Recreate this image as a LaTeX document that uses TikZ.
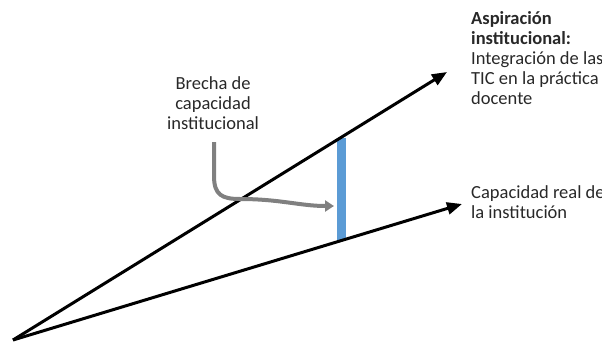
\documentclass[tikz,border=0pt]{standalone}
\usepackage{fontspec}
\setmainfont{Carlito}
\usetikzlibrary{arrows.meta}
\definecolor{barblue}{RGB}{91,155,213}
\definecolor{arrgray}{RGB}{128,128,128}
\definecolor{txt}{RGB}{40,40,40}
\begin{document}
\begin{tikzpicture}[x=1pt,y=-1pt,
  mainline/.style={line width=3pt,-{Triangle[length=15pt,width=12pt]}},
  gaparrow/.style={arrgray,line width=4pt,-{Triangle[length=9pt,width=11pt]}},
  label/.style={inner sep=0pt,font=\fontsize{18.5}{20}\selectfont,text=txt}]
\useasboundingbox (0,0) rectangle (602,343);
\clip (0,0) rectangle (602,343);
\coordinate (O) at (13,340);
\coordinate (A) at (447,72);
\coordinate (B) at (462,204);
\coordinate (T) at (341,137.5);
\coordinate (U) at (341,240.5);
\draw[barblue,line width=9pt] (T) -- (U);
\draw[mainline] (O) -- (A);
\draw[mainline] (O) -- (B);
\node[label,align=center,anchor=north] (gap) at (213,76) {Brecha de\\capacidad\\institucional};
\coordinate (g0) at (214,142);
\coordinate (g1) at (214,176);
\coordinate (g2) at (240,199);
\coordinate (g3) at (334,206);
\draw[gaparrow] (g0) -- (g1) .. controls (214,195) and (222,199) .. (g2) .. controls (280,199) and (300,206) .. (g3);
\node[label,align=left,anchor=north west] (asp) at (471,11) {\textbf{Aspiración}\\\textbf{institucional:}\\Integración de las\\TIC en la práctica\\docente};
\node[label,align=left,anchor=north west] (real) at (471,185) {Capacidad real de\\la institución};
\end{tikzpicture}
\end{document}
